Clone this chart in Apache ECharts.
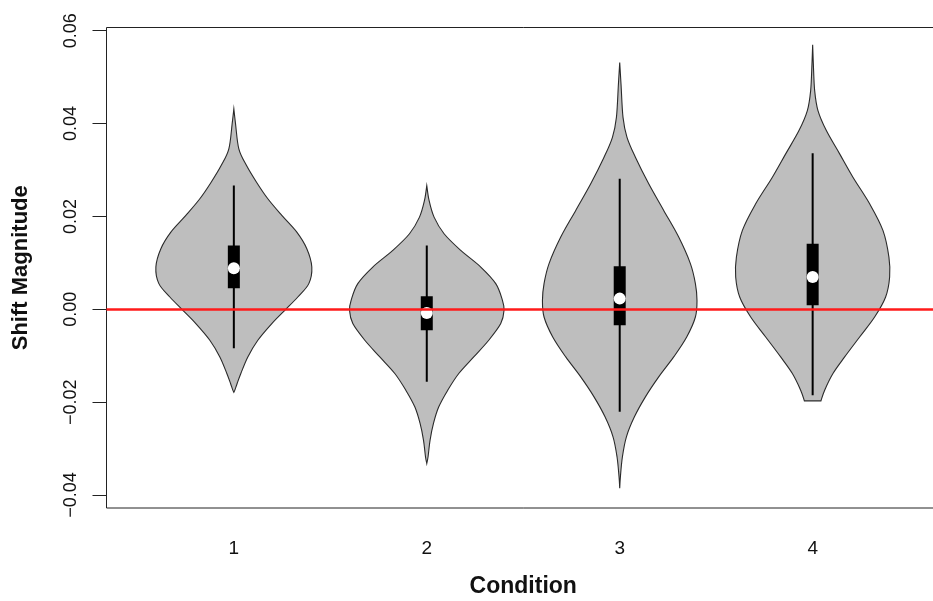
<!DOCTYPE html>
<html>
<head>
<meta charset="utf-8">
<script src="https://cdn.jsdelivr.net/npm/echarts@6/dist/echarts.min.js"></script>
<style>
html,body{margin:0;padding:0;background:#fff;overflow:hidden;width:933px;height:601px;}
#chart{width:940px;height:601px;}
</style>
</head>
<body>
<div id="chart"></div>
<script>
// ---- data ----
const categories = [1, 2, 3, 4];
const xTicks = [1, 2, 3, 4];
const yTicks = [-0.04, -0.02, 0.00, 0.02, 0.04, 0.06];
const xTitle = 'Condition';
const yTitle = 'Shift Magnitude';
const refLine = 0;

// violin outlines: [value, half-width in category units]
const violin1 = [
  [0.04316, 0], [0.03994, 0.0088], [0.03456, 0.0259], [0.03097, 0.0658], [0.02738, 0.1176],
  [0.02381, 0.1762], [0.02022, 0.2487], [0.01662, 0.3264], [0.01305, 0.3782], [0.00910, 0.4041],
  [0.00553, 0.3886], [0.00265, 0.3316], [-0.00022, 0.2642], [-0.00308, 0.1969], [-0.00667, 0.1244],
  [-0.01026, 0.0725], [-0.01383, 0.0363], [-0.01598, 0.0171], [-0.01742, 0.0052], [-0.01785, 0]
];
const violin2 = [
  [0.02667, 0], [0.02344, 0.0119], [0.01985, 0.0378], [0.01628, 0.0896], [0.01269, 0.1762],
  [0.00910, 0.2798], [0.00553, 0.3575], [0.00194, 0.3922], [-0.00022, 0.4005], [-0.00308, 0.3834],
  [-0.00667, 0.3212], [-0.01026, 0.2435], [-0.01383, 0.1658], [-0.01742, 0.1088], [-0.02101, 0.0622],
  [-0.02458, 0.0347], [-0.02817, 0.0171], [-0.03176, 0.0067], [-0.03318, 0]
];
const violin3 = [
  [0.05318, 0], [0.04854, 0.0067], [0.04135, 0.0171], [0.03705, 0.0378], [0.03275, 0.0813],
  [0.02703, 0.1503], [0.02129, 0.2280], [0.01555, 0.3057], [0.00983, 0.3663], [0.00553, 0.3922],
  [0.00194, 0.4005], [-0.00166, 0.3922], [-0.00596, 0.3472], [-0.01026, 0.2798], [-0.01456, 0.2021],
  [-0.01886, 0.1332], [-0.02316, 0.0762], [-0.02746, 0.0347], [-0.03176, 0.0140], [-0.03606, 0.0036],
  [-0.03856, 0]
];
const violin4 = [
  [0.05699, 0], [0.05284, 0.0036], [0.04710, 0.0104], [0.04280, 0.0275], [0.03849, 0.0710],
  [0.03348, 0.1399], [0.02845, 0.2088], [0.02273, 0.2953], [0.01699, 0.3642], [0.01125, 0.3953],
  [0.00695, 0.3990], [0.00265, 0.3782], [-0.00166, 0.3212], [-0.00596, 0.2435], [-0.01026, 0.1658],
  [-0.01383, 0.1052], [-0.01742, 0.0622], [-0.01972, 0.0430]
];
const violins = [violin1, violin2, violin3, violin4];

// inner boxplot statistics
const whiskerHigh = [0.02667, 0.01376, 0.02811, 0.03360];
const whiskerLow  = [-0.00839, -0.01563, -0.02209, -0.01850];
const quartile3   = [0.01376, 0.00280, 0.00925, 0.01413];
const quartile1   = [0.00452, -0.00452, -0.00344, 0.00086];
const medians     = [0.00882, -0.00080, 0.00230, 0.00695];

// ---- chart ----
const xMin = 0.34, xMax = 4.66;
const yMin = -0.0428, yMax = 0.0607;
const FONT = '"Liberation Sans", Arial, sans-serif';

// smooth open curve through points (Catmull-Rom -> cubic Bezier)
function curveThrough(pts, start) {
  let d = start ? 'M' + pts[0][0] + ',' + pts[0][1] : 'L' + pts[0][0] + ',' + pts[0][1];
  const n = pts.length;
  for (let i = 0; i < n - 1; i++) {
    const p0 = pts[Math.max(i - 1, 0)], p1 = pts[i], p2 = pts[i + 1], p3 = pts[Math.min(i + 2, n - 1)];
    const c1x = p1[0] + (p2[0] - p0[0]) / 6, c1y = p1[1] + (p2[1] - p0[1]) / 6;
    const c2x = p2[0] - (p3[0] - p1[0]) / 6, c2y = p2[1] - (p3[1] - p1[1]) / 6;
    d += 'C' + c1x + ',' + c1y + ',' + c2x + ',' + c2y + ',' + p2[0] + ',' + p2[1];
  }
  return d;
}

function renderViolin(params, api) {
  const i = params.dataIndex;
  const xc = categories[i];
  const prof = violins[i];
  const right = prof.map(p => api.coord([xc + p[1], p[0]]));
  const left = prof.slice().reverse().map(p => api.coord([xc - p[1], p[0]]));
  const pathData = curveThrough(right, true) + curveThrough(left, false) + 'Z';
  const c = api.coord([xc, medians[i]]);
  const wh = api.coord([xc, whiskerHigh[i]]);
  const wl = api.coord([xc, whiskerLow[i]]);
  const q3 = api.coord([xc, quartile3[i]]);
  const q1 = api.coord([xc, quartile1[i]]);
  return {
    type: 'group',
    children: [
      { type: 'path', shape: { pathData: pathData },
        style: { fill: '#bebebe', stroke: '#2a2a2a', lineWidth: 1.1 } },
      { type: 'line', shape: { x1: c[0], y1: wh[1], x2: c[0], y2: wl[1] },
        style: { stroke: '#000', lineWidth: 2 } },
      { type: 'rect', shape: { x: c[0] - 6, y: q3[1], width: 12, height: q1[1] - q3[1] },
        style: { fill: '#000' } },
      { type: 'circle', shape: { cx: c[0], cy: c[1], r: 6 },
        style: { fill: '#fff' } }
    ]
  };
}

const chart = echarts.init(document.getElementById('chart'), null, { renderer: 'canvas' });
chart.setOption({
  animation: false,
  backgroundColor: '#fff',
  grid: { left: 106.5, right: 0, top: 27.5, bottom: 93, show: true,
          outerBoundsMode: 'none', containLabel: false,
          borderColor: '#222', borderWidth: 1, backgroundColor: 'transparent' },
  xAxis: {
    type: 'value', min: xMin, max: xMax,
    name: xTitle, nameLocation: 'middle', nameGap: 67,
    nameTextStyle: { fontFamily: FONT, fontWeight: 'bold', fontSize: 23, color: '#111' },
    axisLine: { show: false },
    splitLine: { show: false },
    axisTick: { show: true, customValues: xTicks, length: 13, lineStyle: { color: '#222', width: 1 } },
    axisLabel: { customValues: xTicks, margin: 31, fontFamily: FONT, fontSize: 19, color: '#111',
                 formatter: v => String(v) }
  },
  yAxis: {
    type: 'value', min: yMin, max: yMax,
    name: yTitle, nameLocation: 'middle', nameGap: 75, nameRotate: 90,
    nameTextStyle: { fontFamily: FONT, fontWeight: 'bold', fontSize: 22, color: '#111' },
    axisLine: { show: false },
    splitLine: { show: false },
    axisTick: { show: true, customValues: yTicks, length: 14, lineStyle: { color: '#222', width: 1 } },
    axisLabel: { customValues: yTicks, rotate: 90, margin: 26, fontFamily: FONT, fontSize: 18, color: '#111',
                 formatter: v => (v < 0 ? '\u2212' : '') + Math.abs(v).toFixed(2) }
  },
  series: [
    {
      type: 'custom',
      renderItem: renderViolin,
      data: categories.map((c, i) => [c, medians[i]]),
      clip: true,
      z: 2
    },
    {
      type: 'line',
      data: [],
      z: 5,
      markLine: {
        silent: true, symbol: 'none', animation: false,
        label: { show: false },
        lineStyle: { color: '#ff1a1a', width: 2.5, type: 'solid' },
        data: [{ yAxis: refLine }]
      }
    }
  ]
});
</script>
</body>
</html>
